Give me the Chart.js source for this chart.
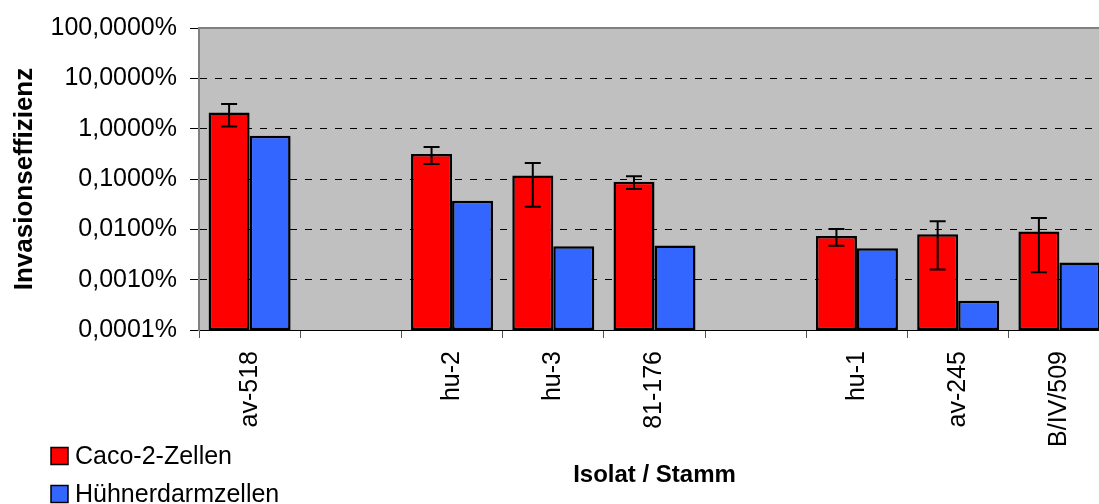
<!DOCTYPE html>
<html>
<head>
<meta charset="utf-8">
<script src="https://cdn.jsdelivr.net/npm/chart.js@4/dist/chart.umd.min.js"></script>
<style>
  html, body { margin: 0; padding: 0; background: #fff; }
  #wrap { width: 1099px; height: 504px; overflow: hidden; position: relative; }
  canvas { display: block; }
</style>
</head>
<body>
<div id="wrap"><canvas id="c" width="1112" height="504"></canvas></div>
<script>
// ---- data ----
const categories = ['av-518', '', 'hu-2', 'hu-3', '81-176', '', 'hu-1', 'av-245', 'B/IV/509'];
const cacoValues = [2.1, null, 0.315, 0.118, 0.0885, null, 0.0074, 0.0080, 0.0091];
const cacoErrors = [1.0, null, 0.116, 0.09, 0.0255, null, 0.0027, 0.0064, 0.0077];
const huhnValues = [0.72, null, 0.037, 0.0046, 0.0048, null, 0.0042, 0.00038, 0.0022];
const yTicks = [0.0001, 0.001, 0.01, 0.1, 1, 10, 100];
const seriesNames = ['Caco-2-Zellen', 'Hühnerdarmzellen'];
const xTitle = 'Isolat / Stamm';
const yTitle = 'Invasionseffizienz';

const FONT = "'Liberation Sans', Arial, sans-serif";

const bgPlugin = {
  id: 'plotBg',
  beforeDraw(chart) {
    const { ctx, chartArea: a } = chart;
    ctx.save();
    ctx.fillStyle = '#c0c0c0';
    ctx.fillRect(a.left, a.top, a.right - a.left, a.bottom - a.top);
    ctx.restore();
  },
  afterDraw(chart) {
    const { ctx, chartArea: a } = chart;
    ctx.save();
    ctx.strokeStyle = '#808080';
    ctx.lineWidth = 2;
    ctx.beginPath();
    ctx.moveTo(a.left, a.top);
    ctx.lineTo(a.right, a.top);
    ctx.lineTo(a.right, a.bottom);
    ctx.stroke();
    ctx.restore();
    // legend (vertical, bottom-left)
    const items = chart.data.datasets;
    ctx.save();
    ctx.font = '25px ' + FONT;
    ctx.textBaseline = 'middle';
    ctx.textAlign = 'left';
    const rows = [456, 494];
    items.forEach((ds, i) => {
      const cy = rows[i];
      ctx.fillStyle = ds.backgroundColor;
      ctx.fillRect(51, cy - 8.5, 17, 17);
      ctx.strokeStyle = '#000';
      ctx.lineWidth = 1.5;
      ctx.strokeRect(51, cy - 8.5, 17, 17);
      ctx.fillStyle = '#000';
      ctx.fillText(ds.label, 75, cy + 1);
    });
    ctx.restore();
  }
};

const errPlugin = {
  id: 'errBars',
  afterDatasetsDraw(chart) {
    const { ctx } = chart;
    const y = chart.scales.y;
    chart.data.datasets.forEach((ds, di) => {
      if (!ds.errors) return;
      const meta = chart.getDatasetMeta(di);
      meta.data.forEach((bar, i) => {
        const v = ds.data[i], e = ds.errors[i];
        if (v == null || e == null) return;
        const x = bar.x;
        const yt = y.getPixelForValue(v + e);
        const yb = y.getPixelForValue(v - e);
        ctx.save();
        ctx.strokeStyle = '#000';
        ctx.lineWidth = 2;
        ctx.beginPath();
        ctx.moveTo(x, yt); ctx.lineTo(x, yb);
        ctx.moveTo(x - 8, yt); ctx.lineTo(x + 8, yt);
        ctx.moveTo(x - 8, yb); ctx.lineTo(x + 8, yb);
        ctx.stroke();
        ctx.restore();
      });
    });
  }
};

new Chart(document.getElementById('c'), {
  type: 'bar',
  data: {
    labels: categories,
    datasets: [
      { label: seriesNames[0], data: cacoValues, errors: cacoErrors,
        backgroundColor: '#ff0000', borderColor: '#000', borderWidth: 2.5, borderSkipped: false },
      { label: seriesNames[1], data: huhnValues,
        backgroundColor: '#3366ff', borderColor: '#000', borderWidth: 2.5, borderSkipped: false }
    ]
  },
  options: {
    responsive: false,
    animation: false,
    devicePixelRatio: 1,
    layout: { padding: { top: 25, right: 2, left: 0, bottom: 0 } },
    datasets: { bar: { categoryPercentage: 0.81, barPercentage: 1.0 } },
    plugins: { legend: { display: false }, tooltip: { enabled: false } },
    scales: {
      x: {
        type: 'category',
        grid: { display: true, drawOnChartArea: false, drawTicks: true, tickLength: 8, tickColor: '#555', offset: true },
        border: { color: '#000', width: 1 },
        ticks: { font: { family: FONT, size: 25 }, color: '#000', minRotation: 90, maxRotation: 90, autoSkip: false, padding: 13 },
        title: { display: true, text: xTitle, font: { family: FONT, size: 24, weight: 'bold' }, color: '#000', padding: { top: 4, bottom: 14 } },
        afterFit(s) { s.height = 174; }
      },
      y: {
        type: 'logarithmic',
        min: 0.0001,
        max: 100,
        afterBuildTicks(s) { s.ticks = yTicks.map(v => ({ value: v })); },
        grid: { color: '#000', lineWidth: 1, tickLength: 9, tickColor: '#000', tickBorderDash: [100, 0] },
        border: { color: '#808080', width: 2, dash: [7, 8] },
        ticks: {
          font: { family: FONT, size: 25 }, color: '#000', padding: 13,
          callback: (v) => Number(v).toFixed(4).replace('.', ',') + '%'
        },
        title: { display: true, text: yTitle, font: { family: FONT, size: 26, weight: 'bold' }, color: '#000', padding: { top: 9, bottom: 0 } },
        afterFit(s) { s.width = 199; }
      }
    }
  },
  plugins: [bgPlugin, errPlugin]
});
</script>
</body>
</html>
